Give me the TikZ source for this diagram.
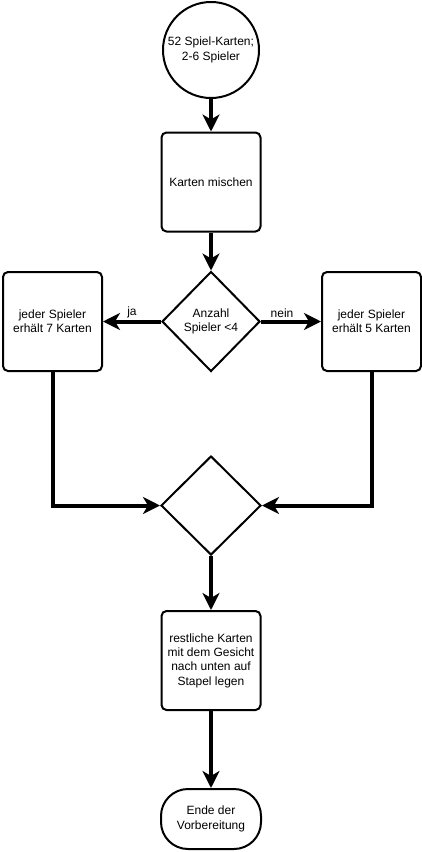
\documentclass[tikz,border=0pt]{standalone}
\usepackage{fontspec}
\setmainfont{Liberation Sans}
\usetikzlibrary{shapes.geometric,arrows.meta}

\begin{document}
\begin{tikzpicture}[x=1pt,y=-1pt,
  every node/.style={font=\fontsize{12}{14.4}\selectfont, align=center, inner sep=0pt},
  shapebase/.style={draw=black, line width=2pt, fill=white},
  procbox/.style={shapebase, rectangle, rounded corners=5pt, minimum width=99pt, minimum height=99pt},
  startcircle/.style={shapebase, circle, minimum size=96pt},
  decision/.style={shapebase, diamond, minimum width=98pt, minimum height=100pt},
  terminal/.style={shapebase, rectangle, rounded corners=27pt, minimum width=100pt, minimum height=60pt},
  flow/.style={line width=4pt, -{Stealth[length=17pt, width=17pt, inset=5pt]}},
  flowlabel/.style={font=\fontsize{12}{14.4}\selectfont, above=1.5pt}
]
\useasboundingbox (0,0) rectangle (422,852);

% nodes
\node[startcircle] (start) at (211,50) {52 Spiel-Karten;\\2-6 Spieler};
\node[procbox] (mix) at (211,182) {Karten mischen};
\node[decision] (count) at (211,321.5) {Anzahl\\Spieler {<}4};
\node[procbox] (seven) at (52.5,321.5) {jeder Spieler\\erhält 7 Karten};
\node[procbox] (five) at (371.5,321.5) {jeder Spieler\\erhält 5 Karten};
\node[decision, minimum width=100pt, minimum height=99pt] (merge) at (211,505.5) {};
\node[procbox] (rest) at (211,660.5) {restliche Karten\\mit dem Gesicht\\nach unten auf\\Stapel legen};
\node[terminal] (finish) at (211,819) {Ende der\\Vorbereitung};

% connectors
\draw[flow] (start.south) -- (mix.north);
\draw[flow] (mix.south) -- (count.north);
\draw[flow] (count.west) -- node[flowlabel, pos=0.5] {ja} (seven.east);
\draw[flow] (count.east) -- node[flowlabel, pos=0.35] {nein} (five.west);
\draw[flow] (seven.south) |- (merge.west);
\draw[flow] (five.south) |- (merge.east);
\draw[flow] (merge.south) -- (rest.north);
\draw[flow] (rest.south) -- (finish.north);
\end{tikzpicture}
\end{document}
